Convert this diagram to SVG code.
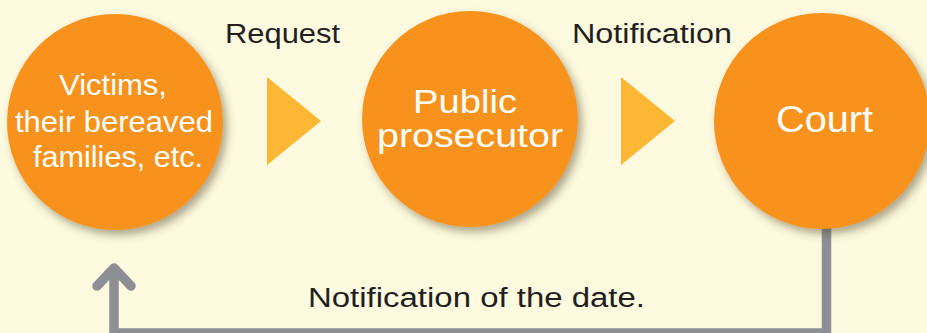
<svg xmlns="http://www.w3.org/2000/svg" width="927" height="333" viewBox="0 0 927 333">
<defs>
<filter id="sh" x="-20%" y="-20%" width="150%" height="150%">
<feDropShadow dx="4" dy="5" stdDeviation="4" flood-color="#4a4020" flood-opacity="0.45"/>
</filter>
<style>
.bg{fill:#fefadf}
.node{fill:#f7931e;filter:url(#sh)}
.tri{fill:#fdb734}
.wt{fill:#ffffff;font-family:"Liberation Sans",Arial,sans-serif;text-anchor:middle}
.lb{fill:#231f20;font-family:"Liberation Sans",Arial,sans-serif;font-size:27px}
.conn{fill:none;stroke:#8e8f94;stroke-width:9.5}
</style>
</defs>
<rect class="bg" x="0" y="0" width="927" height="333"/>
<g id="connectors">
<polyline class="conn" points="826.5,226 826.5,333 114,333 114,270"/>
<polyline class="conn" points="97,286 114,268 131,286" stroke-linecap="round" stroke-linejoin="round"/>
<polygon class="tri" points="267,77 321,121 267,165"/>
<polygon class="tri" points="621,77 675,121 621,165"/>
</g>
<g id="labels">
<text class="lb" x="225" y="43" textLength="115" lengthAdjust="spacingAndGlyphs">Request</text>
<text class="lb" x="572" y="43" textLength="160" lengthAdjust="spacingAndGlyphs">Notification</text>
<text class="lb" x="308" y="307" textLength="337" lengthAdjust="spacingAndGlyphs">Notification of the date.</text>
</g>
<g id="victims">
<circle class="node" cx="115" cy="122" r="108"/>
<text class="wt" font-size="30"><tspan x="113" y="95" textLength="108" lengthAdjust="spacingAndGlyphs">Victims,</tspan><tspan x="114" y="132" textLength="198" lengthAdjust="spacingAndGlyphs">their bereaved</tspan><tspan x="118" y="167" textLength="170" lengthAdjust="spacingAndGlyphs">families, etc.</tspan></text>
</g>
<g id="prosecutor">
<circle class="node" cx="470" cy="119" r="108"/>
<text class="wt" font-size="33"><tspan x="465" y="113" textLength="104" lengthAdjust="spacingAndGlyphs">Public</tspan><tspan x="470" y="147" textLength="186" lengthAdjust="spacingAndGlyphs">prosecutor</tspan></text>
</g>
<g id="court">
<circle class="node" cx="822" cy="121" r="108"/>
<text class="wt" font-size="36" x="824.5" y="132" textLength="97" lengthAdjust="spacingAndGlyphs">Court</text>
</g>
</svg>
